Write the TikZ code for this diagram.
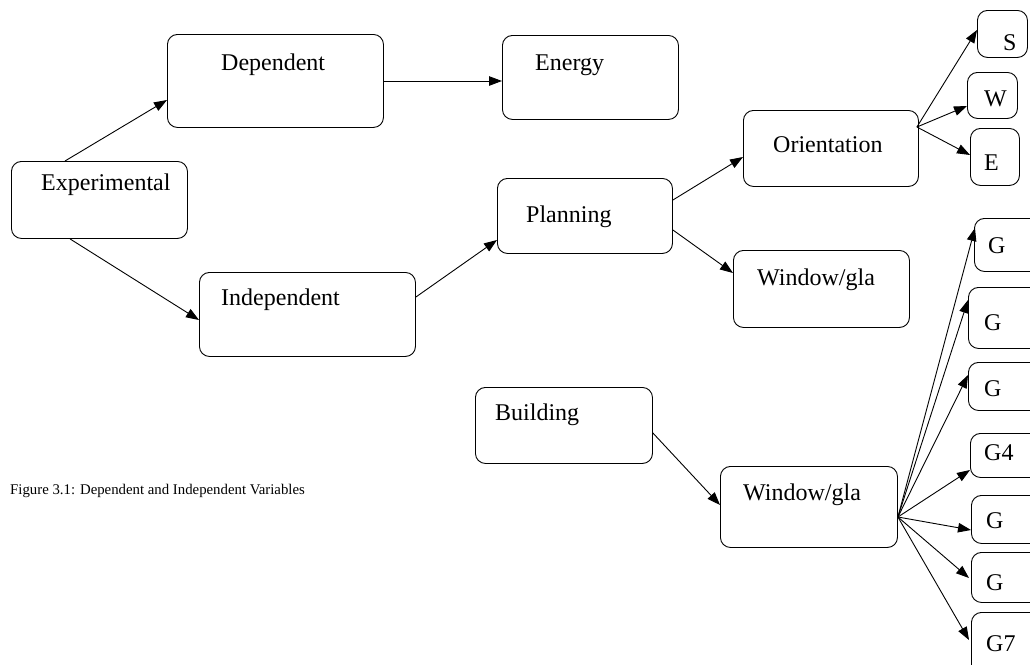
\documentclass[tikz,border=0pt]{standalone}
\usepackage{fontspec}
\setmainfont{Liberation Serif}
\usetikzlibrary{arrows.meta,calc}
\begin{document}
\begin{tikzpicture}[x=1pt,y=-1pt,
  box/.style={draw, rounded corners=10pt, line width=0.9pt, inner sep=0pt, anchor=north west},
  lbl/.style={anchor=base west, inner sep=0pt, font=\fontsize{24}{28}\selectfont},
  captext/.style={anchor=base west, inner sep=0pt, font=\fontsize{14.8}{17}\selectfont},
  arr/.style={line width=0.9pt, -{Triangle[length=13pt,width=9.5pt]}}]
\useasboundingbox (0,0) rectangle (1030,664);
\clip (0,0) rectangle (1030,664);
% boxes (north west corner, size)
\node[box, minimum width=216pt, minimum height=93pt] (dep) at (167,34) {};
\node[box, minimum width=176pt, minimum height=84pt] (energy) at (502,35) {};
\node[box, minimum width=176pt, minimum height=77pt] (exp) at (11,161) {};
\node[box, minimum width=216pt, minimum height=84pt] (indep) at (199,272) {};
\node[box, minimum width=175pt, minimum height=75pt] (plan) at (497,178) {};
\node[box, minimum width=175pt, minimum height=76pt] (orient) at (743,110) {};
\node[box, minimum width=176pt, minimum height=77pt] (winA) at (733,250) {};
\node[box, minimum width=177pt, minimum height=76pt] (bldg) at (475,387) {};
\node[box, minimum width=177pt, minimum height=81pt] (winB) at (720,466) {};
\node[box, minimum width=50pt, minimum height=47pt] (bS) at (977,10) {};
\node[box, minimum width=50pt, minimum height=46pt] (bW) at (967,72) {};
\node[box, minimum width=49pt, minimum height=57pt] (bE) at (970,128) {};
\node[box, minimum width=90pt, minimum height=53pt] (g1) at (974,218) {};
\node[box, minimum width=90pt, minimum height=61pt] (g2) at (968,287) {};
\node[box, minimum width=90pt, minimum height=48pt] (g3) at (968,362) {};
\node[box, minimum width=90pt, minimum height=44pt] (g4) at (970,433) {};
\node[box, minimum width=90pt, minimum height=48pt] (g5) at (971,495) {};
\node[box, minimum width=90pt, minimum height=50pt] (g6) at (971,552) {};
\node[box, minimum width=90pt, minimum height=70pt] (g7) at (971,612) {};
% labels
\node[lbl] (tdep) at (221,70) {Dependent};
\node[lbl] (tenergy) at (535,70) {Energy};
\node[lbl] (texp) at (41,190) {Experimental};
\node[lbl] (tindep) at (221,305) {Independent};
\node[lbl] (tplan) at (526,222) {Planning};
\node[lbl] (torient) at (773,152) {Orientation};
\node[lbl] (twinA) at (757,285) {Window/gla};
\node[lbl] (tbldg) at (495,420) {Building};
\node[lbl] (twinB) at (743,500) {Window/gla};
\node[lbl] (tS) at (1003,50) {S};
\node[lbl] (tW) at (984,106) {W};
\node[lbl] (tE) at (984,170) {E};
\node[lbl] (tg1) at (988,253) {G};
\node[lbl] (tg2) at (984,330) {G};
\node[lbl] (tg3) at (984,396) {G};
\node[lbl] (tg4) at (984,460) {G4};
\node[lbl] (tg5) at (986,528) {G};
\node[lbl] (tg6) at (986,590) {G};
\node[lbl] (tg7) at (986,651) {G7};
\node[captext] (caption) at (10,494) {Figure 3.1: Dependent and Independent Variables};
% connectors
\draw[arr] ($(exp.north west)+(54,0)$) -- ($(dep.north west)+(0,66)$);
\draw[arr] ($(exp.south west)+(59,0)$) -- ($(indep.north west)+(0,48)$);
\draw[arr] ($(dep.north east)+(0,47)$) -- ($(energy.north west)+(0,46)$);
\draw[arr] ($(indep.north east)+(0,25)$) -- ($(plan.north west)+(0,62)$);
\draw[arr] ($(plan.north east)+(0,22)$) -- ($(orient.north west)+(0,47)$);
\draw[arr] ($(plan.north east)+(0,52)$) -- ($(winA.north west)+(0,23)$);
\draw[arr] ($(bldg.north east)+(0,46)$) -- ($(winB.north west)+(0,39)$);
\coordinate (oSrc) at ($(orient.north east)+(-2,17)$);
\draw[arr] (oSrc) -- ($(bS.north west)+(0,20)$);
\draw[arr] (oSrc) -- ($(bW.north west)+(0,34)$);
\draw[arr] (oSrc) -- ($(bE.north west)+(0,27)$);
\coordinate (wSrc) at ($(winB.north east)+(0,51)$);
\draw[arr] (wSrc) -- ($(g1.north west)+(1,10)$);
\draw[arr] (wSrc) -- ($(g2.north west)+(0,13)$);
\draw[arr] (wSrc) -- ($(g3.north west)+(0,13)$);
\draw[arr] (wSrc) -- ($(g4.north west)+(0,37)$);
\draw[arr] (wSrc) -- ($(g5.north west)+(0,35)$);
\draw[arr] (wSrc) -- ($(g6.north west)+(-2,26)$);
\draw[arr] (wSrc) -- ($(g7.north west)+(-2,28)$);
\end{tikzpicture}
\end{document}
